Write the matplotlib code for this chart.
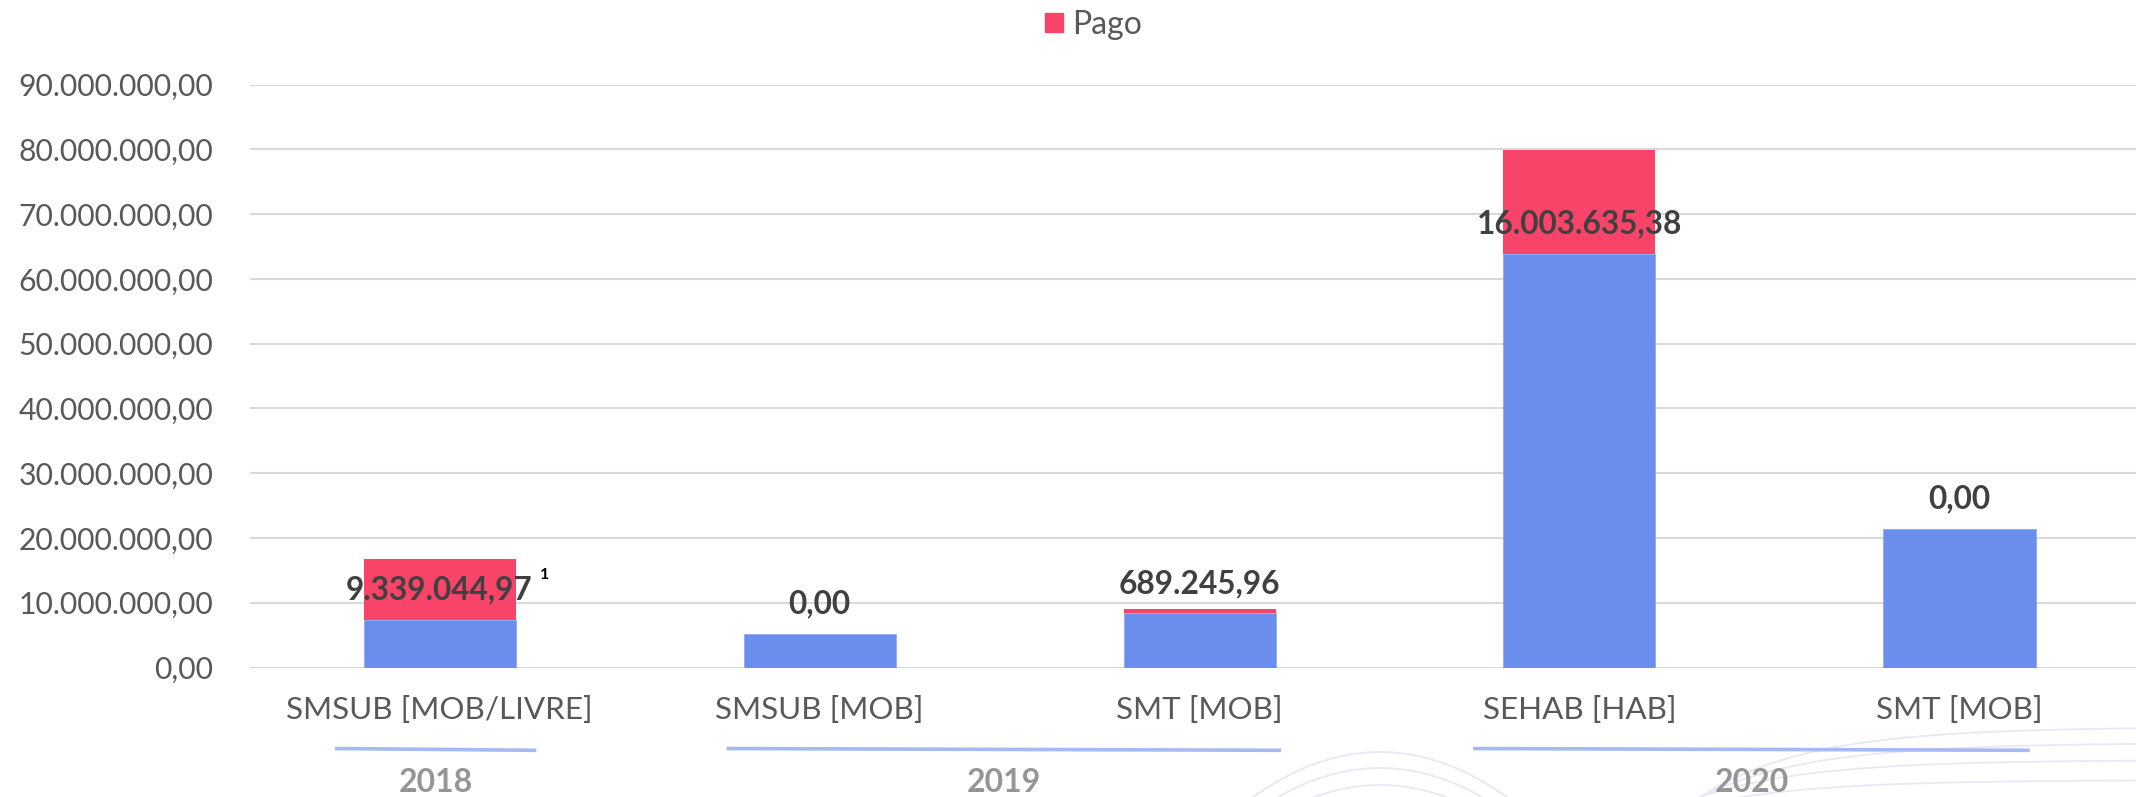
import matplotlib
matplotlib.use("Agg")
import matplotlib.pyplot as plt
from matplotlib.patches import Patch
from matplotlib.lines import Line2D
import numpy as np

plt.rcParams['font.family'] = ['Lato', 'DejaVu Sans']

# data
categories = ['SMSUB [MOB/LIVRE]', 'SMSUB [MOB]', 'SMT [MOB]', 'SEHAB [HAB]', 'SMT [MOB]']
years = ['2018', '2019', '2020']
year_groups = [(0, 0), (1, 2), (3, 4)]          # first / last category of each year
nao_pago = [7.35e6, 5.17e6, 8.36e6, 63.9e6, 21.45e6]
pago = [9339044.97, 0.0, 689245.96, 16003635.38, 0.0]
yticks = [i * 10e6 for i in range(10)]

BLUE = '#6A8EEE'
RED = '#F9446A'
TXT = '#595959'

# how far the year underline sticks out left/right of its first/last bar centre
line_pad = [(-0.27, 0.25), (-0.24, 0.21), (-0.275, 0.18)]


def br(v):
    s = f"{v:,.2f}"
    return s.replace(',', 'X').replace('.', ',').replace('X', '.')


W, H = 2136, 797
fig = plt.figure(figsize=(W / 100, H / 100), dpi=100)
ax = fig.add_axes([249.5 / W, (H - 667.5) / H, 1900 / W, (667.5 - 84.5) / H])

x = np.arange(len(categories))
ax.bar(x, nao_pago, width=0.4, color=BLUE, edgecolor='#8FA9F2', linewidth=0.6, zorder=2)
ax.bar(x, pago, width=0.4, bottom=nao_pago, color=RED, zorder=2)

ax.set_xlim(-0.5, len(categories) - 0.5)
ax.set_ylim(0, 90e6)
ax.set_yticks(yticks)
ax.set_yticklabels([br(v) for v in yticks], fontsize=21.7, color=TXT)
ax.grid(axis='y', color='#D9D9D9', linewidth=1.5, zorder=0)
ax.tick_params(axis='y', length=0, pad=26)
ax.set_xticks([])
for s in ax.spines.values():
    s.set_visible(False)

# value labels (Pago), sitting just above the blue part
for i in range(len(categories)):
    ax.annotate(br(pago[i]), (x[i], nao_pago[i]), xytext=(0, 21.5), textcoords='offset points',
                ha='center', va='center', fontsize=22.8, fontweight='bold', color='#404040', zorder=3)
ax.annotate('1', (x[0], nao_pago[0]), xytext=(76, 32), textcoords='offset points',
            ha='center', va='center', fontsize=11.5, fontweight='bold', color='black')

# category labels, year lines and year labels
tr = ax.get_xaxis_transform()
for i, c in enumerate(categories):
    ax.text(x[i], -0.073, c, transform=tr, ha='center', va='center', fontsize=22.6, color=TXT, clip_on=False)
for yr, (a, b), (pl, pr) in zip(years, year_groups, line_pad):
    x0, x1 = a + pl, b + pr
    ax.add_line(Line2D([x0, x1], [-0.139, -0.142], transform=tr, color='#A4BAF3',
                       linewidth=2.6, clip_on=False))
    ax.text((x0 + x1) / 2, -0.197, yr, transform=tr, ha='center', va='center', fontsize=23,
            fontweight='bold', color='#959595', clip_on=False)

# faint background swirls at the bottom right
xs = np.linspace(1150, 1700, 200)
for yp in [752, 768, 785]:
    ys = yp + 0.0028 * (xs - 1380) ** 2
    fig.add_artist(Line2D(xs / W, 1 - ys / H, color='#E8E8F3', linewidth=1.3, zorder=0))
xs = np.linspace(1700, W, 200)
for y0, y1 in [(797, 727), (797, 743), (797, 760), (805, 780)]:
    t = (xs - xs[0]) / (xs[-1] - xs[0])
    ys = y1 + (y0 - y1) * np.exp(-4 * t)
    fig.add_artist(Line2D(xs / W, 1 - ys / H, color='#E8E8F3', linewidth=1.3, zorder=0))

fig.legend(handles=[Patch(color=RED, label='Pago')], loc='center', bbox_to_anchor=(0.512, 0.9686),
           frameon=False, fontsize=23, labelcolor=TXT, handlelength=0.55, handleheight=0.55,
           handletextpad=0.3, borderpad=0)

fig.savefig('out.png', dpi=100)
